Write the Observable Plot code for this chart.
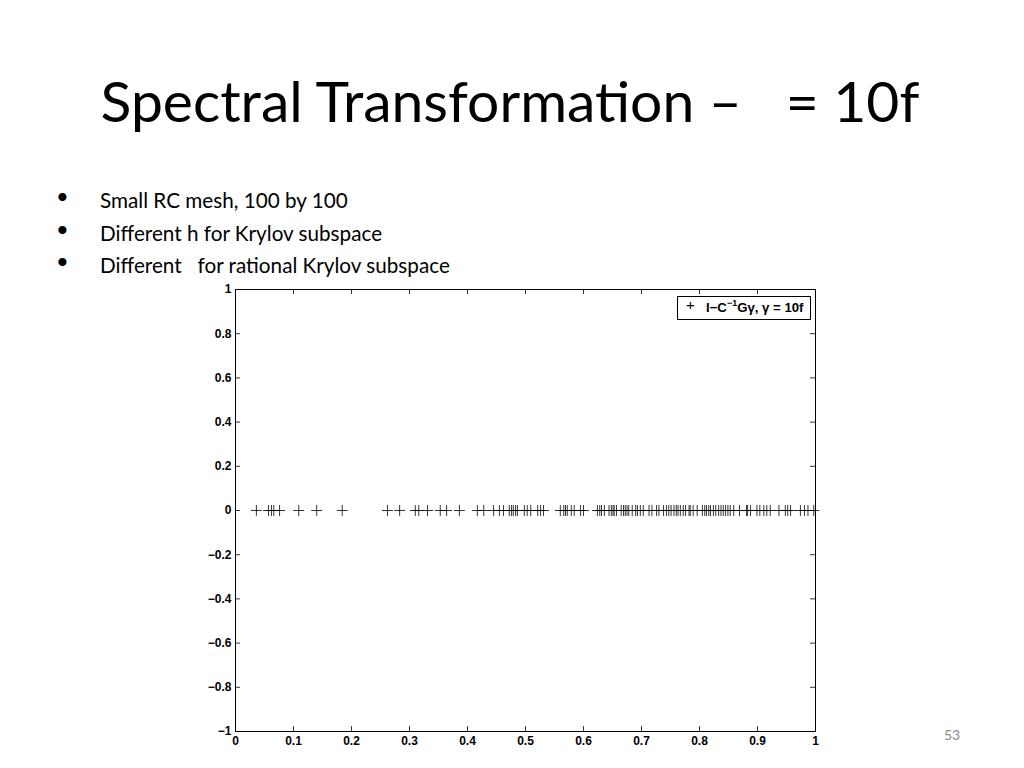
<!DOCTYPE html>
<html>
<head>
<meta charset="utf-8">
<script src="https://cdn.jsdelivr.net/npm/d3@7"></script>
<script src="https://cdn.jsdelivr.net/npm/@observablehq/plot@0.6"></script>
<style>
  html, body { margin: 0; padding: 0; background: #fff; }
  #page { position: relative; width: 1024px; height: 768px; overflow: hidden; font-family: Lato, "Open Sans", sans-serif; color: #000; }
  #title { position: absolute; left: 0; width: 1020px; top: 62px; text-align: center; font-size: 57px; line-height: 76px; white-space: pre; }
  .bullet { position: absolute; left: 56px; font-size: 20.7px; line-height: 24px; white-space: pre; }
  .bullet .dot { position: absolute; left: 0; top: -4px; font-size: 22px; }
  .bullet .txt { position: absolute; left: 44px; }
  #chart { position: absolute; left: 170px; top: 270px; }
  #legend { position: absolute; left: 677px; top: 296px; width: 134px; height: 24px; box-sizing: border-box; border: 1px solid #000; background: #fff;
            font-family: "Liberation Sans", Arial, sans-serif; font-size: 13.2px; font-weight: bold; line-height: 22px; white-space: pre; }
  #legend sup { font-size: 9px; vertical-align: 6px; line-height: 0; }
  #pnum { position: absolute; left: 944px; top: 726px; font-size: 14px; color: #8a8a8a; }
</style>
</head>
<body>
<div id="page">
  <div id="title">Spectral Transformation –   = 10f</div>
  <div class="bullet" style="top:188px"><span class="dot">•</span><span class="txt">Small RC mesh, 100 by 100</span></div>
  <div class="bullet" style="top:221px"><span class="dot">•</span><span class="txt">Different h for Krylov subspace</span></div>
  <div class="bullet" style="top:253px"><span class="dot">•</span><span class="txt">Different   for rational Krylov subspace</span></div>
  <div id="chart"></div>
  <div id="legend"><span style="position:absolute;left:8px;top:-3px;font-weight:normal;font-size:15px">+</span><span style="position:absolute;left:28px;top:0px">I−C<sup>−1</sup>Gγ, γ = 10f</span></div>
  <div id="pnum">53</div>
</div>
<script>
const eigenvalues = [
  0.036, 0.057, 0.062, 0.066, 0.076, 0.109, 0.140, 0.184,
  0.262, 0.283, 0.310, 0.316, 0.331, 0.353, 0.364, 0.386,
  0.417, 0.428, 0.445, 0.455, 0.462, 0.472, 0.476, 0.479, 0.483, 0.486,
  0.498, 0.503, 0.509, 0.521, 0.526, 0.531,
  0.560, 0.566, 0.569, 0.572, 0.579, 0.584, 0.595, 0.600,
  0.624, 0.628, 0.631, 0.636, 0.644, 0.648, 0.651, 0.653, 0.657,
  0.665, 0.669, 0.672, 0.675, 0.678, 0.684, 0.690, 0.693, 0.698, 0.703,
  0.713, 0.718, 0.726, 0.730, 0.738, 0.743, 0.747, 0.751, 0.756, 0.760, 0.763,
  0.767, 0.772, 0.776, 0.782, 0.784, 0.789, 0.796,
  0.805, 0.809, 0.812, 0.816, 0.819, 0.824, 0.828, 0.833, 0.837, 0.841, 0.845,
  0.849, 0.853, 0.859, 0.869, 0.881, 0.883, 0.888, 0.899, 0.904, 0.911, 0.916,
  0.922, 0.937, 0.948, 0.952, 0.957, 0.974, 0.981, 0.987, 0.997
];
const imagParts = eigenvalues.map(() => 0);
const xTicks = [0, 0.1, 0.2, 0.3, 0.4, 0.5, 0.6, 0.7, 0.8, 0.9, 1];
const yTicks = [-1, -0.8, -0.6, -0.4, -0.2, 0, 0.2, 0.4, 0.6, 0.8, 1];

const points = eigenvalues.map((re, i) => ({re, im: imagParts[i]}));

const W = 670, H = 490, mL = 65, mR = 25, mT = 19, mB = 29;
const plotW = W - mL - mR, plotH = H - mT - mB, tk = 5;
const fmt = d => d === 0 ? "0" : d3.format("")(d).replace("-", "−");

const chart = Plot.plot({
  width: W, height: H,
  marginLeft: mL, marginRight: mR, marginTop: mT, marginBottom: mB,
  style: {background: "transparent", fontFamily: "'Liberation Sans', Arial, sans-serif", fontSize: "12px", color: "#000"},
  x: {domain: [0, 1]},
  y: {domain: [-1, 1]},
  marks: [
    Plot.axisX(xTicks, {tickSize: 0, tickPadding: 5, tickFormat: fmt, label: null, fontSize: 12, fontWeight: "bold"}),
    Plot.axisY(yTicks, {tickSize: 0, tickPadding: 4, tickFormat: fmt, label: null, fontSize: 12, fontWeight: "bold"}),
    Plot.tickX(xTicks, {x: d => d, insetTop: plotH - tk, stroke: "#000", strokeWidth: 0.8}),
    Plot.tickX(xTicks, {x: d => d, insetBottom: plotH - tk, stroke: "#000", strokeWidth: 0.8}),
    Plot.tickY(yTicks, {y: d => d, insetRight: plotW - tk, stroke: "#000", strokeWidth: 0.8}),
    Plot.tickY(yTicks, {y: d => d, insetLeft: plotW - tk, stroke: "#000", strokeWidth: 0.8}),
    Plot.frame({stroke: "#000", strokeWidth: 1}),
    Plot.dot(points, {x: "re", y: "im", symbol: "plus", r: 3.6, stroke: "#000", strokeWidth: 0.8})
  ]
});
document.getElementById("chart").appendChild(chart);
</script>
</body>
</html>
